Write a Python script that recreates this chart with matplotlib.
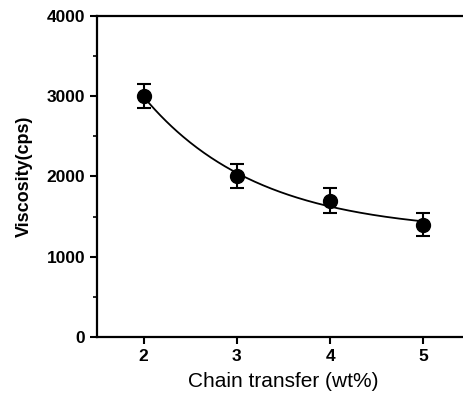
import numpy as np
import matplotlib
matplotlib.use("Agg")
import matplotlib.pyplot as plt
from matplotlib.ticker import MultipleLocator

chain_transfer = [2, 3, 4, 5]
viscosity = [3000, 2000, 1700, 1400]
viscosity_err = [150, 150, 150, 140]
x_ticks = [2, 3, 4, 5]
y_ticks = [0, 1000, 2000, 3000, 4000]

plt.rcParams['font.family'] = ['Liberation Sans', 'DejaVu Sans']

def exp_decay_fit(x, y, xs):
    # y = c + a*exp(-x/t), best t by scan, a and c by least squares
    x = np.asarray(x, float); y = np.asarray(y, float)
    best = None
    for t in np.linspace(0.2, 10, 500):
        M = np.column_stack([np.ones_like(x), np.exp(-x / t)])
        coef, *_ = np.linalg.lstsq(M, y, rcond=None)
        r = np.sum((M @ coef - y) ** 2)
        if best is None or r < best[0]:
            best = (r, t, coef)
    _, t, coef = best
    return coef[0] + coef[1] * np.exp(-xs / t)

fig = plt.figure(figsize=(4.64, 3.96), dpi=100)
ax = fig.add_axes([0.209, 0.149, 0.804, 0.811])

xs = np.linspace(chain_transfer[0], chain_transfer[-1], 200)
ax.plot(xs, exp_decay_fit(chain_transfer, viscosity, xs), color='black', lw=1.3)
ax.errorbar(chain_transfer, viscosity, yerr=viscosity_err, fmt='o', color='black',
            markersize=10, capsize=5, elinewidth=1.5, capthick=1.5)

ax.set_xlim(1.5, 5.5)
ax.set_ylim(0, 4000)
ax.set_xticks(x_ticks)
ax.set_yticks(y_ticks)
ax.yaxis.set_minor_locator(MultipleLocator(500))
for s in ax.spines.values():
    s.set_linewidth(1.6)
ax.tick_params(direction='out', length=5, width=1.5, labelsize=12.5)
ax.tick_params(which='minor', direction='out', length=3, width=1.2)
for lab in ax.get_xticklabels() + ax.get_yticklabels():
    lab.set_fontweight('bold')
ax.set_xlabel('Chain transfer (wt%)', fontsize=15, labelpad=6)
ax.set_ylabel('Viscosity(cps)', fontsize=13, fontweight='bold', labelpad=10)

fig.savefig('out.png', dpi=100)
